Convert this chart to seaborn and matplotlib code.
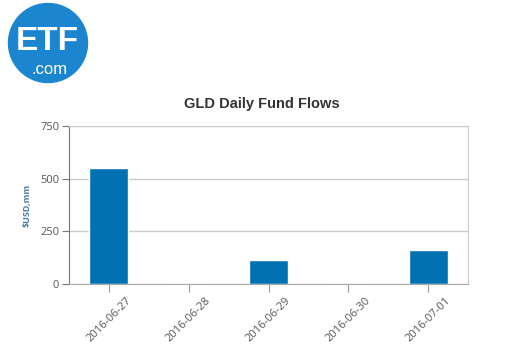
import matplotlib
matplotlib.use('Agg')
import matplotlib.pyplot as plt
from matplotlib.patches import Circle
import pandas as pd
import seaborn as sns

dates = ['2016-06-27', '2016-06-28', '2016-06-29', '2016-06-30', '2016-07-01']
flows = [551, 0, 112, 0, 160]

df = pd.DataFrame({'date': dates, 'flow': flows})

sns.set_style('white')
plt.rcParams['font.family'] = ['Open Sans', 'DejaVu Sans']

fig = plt.figure(figsize=(5.27, 3.52), dpi=100)
W, H = 527, 352
ax = fig.add_axes([69 / W, 1 - 284 / H, 399 / W, 158 / H])

sns.barplot(data=df, x='date', y='flow', color='#0071b1', width=0.49,
            saturation=1, ax=ax, zorder=3)

ax.set_ylim(0, 750)
ax.set_yticks([0, 250, 500, 750])
ax.yaxis.grid(True, color='#cccccc', linewidth=1, zorder=0)
ax.set_axisbelow(True)
for s in ['top', 'right']:
    ax.spines[s].set_color('#cccccc')
ax.spines['bottom'].set_color('#aaaaaa')
ax.spines['left'].set_color('#777777')
ax.tick_params(axis='y', length=5, color='#777777', labelsize=8, labelcolor='#555555', pad=2, left=True)
ax.tick_params(axis='x', length=6, color='#999999', labelsize=8, labelcolor='#555555', pad=2, bottom=True)
plt.setp(ax.get_xticklabels(), rotation=45, ha='center', va='top')
ax.set_xlabel('')
ax.set_ylabel('$USD,mm', fontsize=6.5, color='#4a7fa3', fontweight='bold', labelpad=6)

fig.text(262 / W, 1 - 104 / H, 'GLD Daily Fund Flows', ha='center', va='center',
         fontsize=10.5, fontweight='bold', color='#333333', family=['Liberation Sans', 'DejaVu Sans'])

# logo
lax = fig.add_axes([0, 1 - 90 / H, 90 / W, 90 / H])
lax.set_xlim(0, 90)
lax.set_ylim(90, 0)
lax.set_aspect('equal')
lax.axis('off')
lax.add_patch(Circle((48, 43), 39.5, color='#1b86cf'))
lax.text(47.5, 42, 'ETF', ha='center', va='center', color='white', fontsize=24,
         fontweight='bold', family=['Liberation Sans', 'DejaVu Sans'])
lax.text(49.5, 70, '.com', ha='center', va='center', color='white', fontsize=12,
         family=['Liberation Sans', 'DejaVu Sans'])

fig.savefig('out.png', dpi=100)
